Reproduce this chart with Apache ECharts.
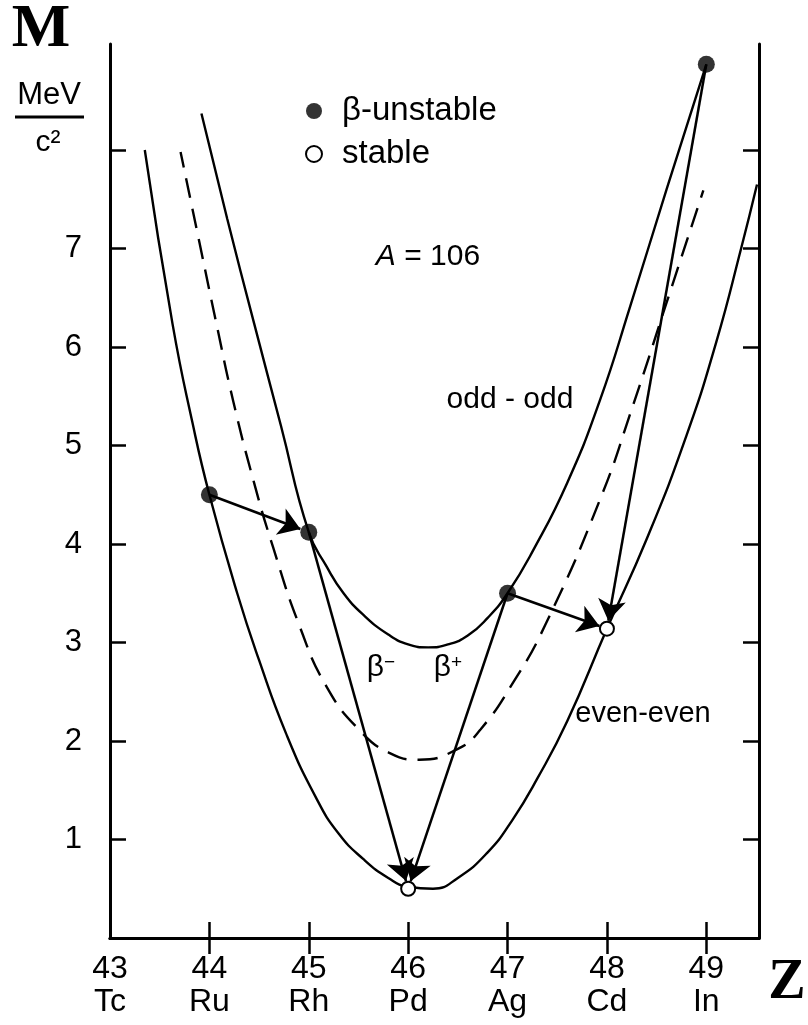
<!DOCTYPE html>
<html>
<head>
<meta charset="utf-8">
<script src="https://cdn.jsdelivr.net/npm/echarts@6/dist/echarts.min.js"></script>
<style>
html, body { margin: 0; padding: 0; background: #fff; }
#main { width: 808px; height: 1025px; }
</style>
</head>
<body>
<div id="main"></div>
<script>
// axis ticks / labels
const zTicks = [43, 44, 45, 46, 47, 48, 49]
const elements = ['Tc', 'Ru', 'Rh', 'Pd', 'Ag', 'Cd', 'In']
const massTicks = [1, 2, 3, 4, 5, 6, 7, 8]
const massLabels = [1, 2, 3, 4, 5, 6, 7]

// even-even mass parabola
const evenEvenZ = [43.35, 43.63, 43.83, 44.0, 44.28, 44.5, 44.77, 45.07, 45.3, 45.55, 45.8, 46.0, 46.25, 46.5, 46.8, 47.05, 47.3, 47.6, 48.0, 48.4, 48.8, 49.1, 49.35, 49.51]
const evenEvenM = [8.0, 6.23, 5.23, 4.5, 3.5, 2.82, 2.08, 1.43, 1.06, 0.8, 0.61, 0.52, 0.5, 0.61, 0.87, 1.2, 1.62, 2.2, 3.14, 4.05, 5.1, 6.05, 7.0, 7.65]

// odd-odd mass parabola
const oddOddZ = [43.92, 44.18, 44.45, 44.72, 45.0, 45.18, 45.35, 45.55, 45.8, 46.0, 46.2, 46.4, 46.6, 46.8, 47.0, 47.26, 47.6, 47.93, 48.23, 48.6, 49.0]
const oddOddM = [8.37, 7.3, 6.24, 5.2, 4.12, 3.77, 3.5, 3.28, 3.08, 2.98, 2.95, 2.98, 3.07, 3.25, 3.5, 3.94, 4.62, 5.46, 6.4, 7.6, 8.87]

// dashed mean curve
const meanZ = [43.71, 43.9, 44.07, 44.24, 44.45, 44.64, 44.91, 45.18, 45.51, 45.81, 46.11, 46.5, 46.73, 47.06, 47.38, 47.93, 48.26, 48.6, 48.97]
const meanM = [7.98, 7.06, 6.24, 5.45, 4.62, 3.97, 3.16, 2.55, 2.11, 1.88, 1.81, 1.92, 2.12, 2.6, 3.18, 4.45, 5.4, 6.45, 7.59]

// nuclei
const unstableZ = [44, 45, 47, 49]
const unstableM = [4.5, 4.12, 3.5, 8.87]
const stableZ = [46, 48]
const stableM = [0.5, 3.14]

// decays [from Z, to Z]
const decays = [[44, 45], [45, 46], [47, 46], [47, 48], [49, 48]]

const massOf = z => {
    const i = unstableZ.indexOf(z)
    if (i >= 0) return unstableM[i]
    return stableM[stableZ.indexOf(z)]
}
const pairs = (zs, ms) => zs.map((z, i) => [z, ms[i]])

const FONT = '"Liberation Sans", Arial, sans-serif'
const SERIF = '"Liberation Serif", "Times New Roman", serif'

const myChart = echarts.init(document.getElementById('main'))

const axisLine = { lineStyle: { color: '#000', width: 3 } }
const tickStyle = { color: '#000', width: 2.5 }

function curve(name, zs, ms, type) {
    return {
        name: name,
        type: 'line',
        data: pairs(zs, ms),
        smooth: 0.5,
        showSymbol: false,
        silent: true,
        z: 2,
        lineStyle: { color: '#000', width: 2.4, type: type || 'solid', dashOffset: 4 }
    }
}

function decayLines(trim) {
    return decays.map(d => {
        const from = [d[0], massOf(d[0])]
        const to = [d[1], massOf(d[1])]
        return { coords: trim ? trim(from, to, stableZ.includes(d[1]) ? 8 : 9) : [from, to] }
    })
}

myChart.setOption({
    animation: false,
    backgroundColor: '#fff',
    grid: { left: 110, right: 49, top: 44, bottom: 87 },
    xAxis: [
        {
            type: 'value', min: 43, max: 49.53, interval: 1,
            axisLine: axisLine,
            axisTick: { inside: true, length: 16, lineStyle: tickStyle, customValues: zTicks.slice(1) },
            splitLine: { show: false },
            axisLabel: {
                margin: 15,
                customValues: zTicks,
                formatter: v => '{n|' + v + '}\n{e|' + elements[zTicks.indexOf(v)] + '}',
                rich: {
                    n: { fontFamily: FONT, fontSize: 32, lineHeight: 33, color: '#000' },
                    e: { fontFamily: FONT, fontSize: 32, lineHeight: 33, color: '#000' }
                }
            }
        },
        {
            type: 'value', position: 'top', min: 43, max: 49.53, interval: 1,
            axisLine: axisLine,
            axisTick: { inside: true, length: 16, lineStyle: tickStyle, customValues: zTicks.slice(1) },
            axisLabel: { show: false },
            splitLine: { show: false }
        }
    ],
    yAxis: [
        {
            type: 'value', min: 0, max: 9.076, interval: 1,
            axisLine: axisLine,
            axisTick: { inside: true, length: 16, lineStyle: tickStyle, customValues: massTicks },
            splitLine: { show: false },
            axisLabel: {
                margin: 28, customValues: massLabels,
                fontFamily: FONT, fontSize: 31, color: '#000'
            }
        },
        {
            type: 'value', position: 'right', min: 0, max: 9.076, interval: 1,
            axisLine: axisLine,
            axisTick: { inside: true, length: 16, lineStyle: tickStyle, customValues: massTicks },
            axisLabel: { show: false },
            splitLine: { show: false }
        }
    ],
    legend: {
        orient: 'vertical',
        left: 305, top: 94,
        padding: 0,
        itemGap: 9,
        itemWidth: 46, itemHeight: 16,
        selectedMode: false,
        textStyle: { fontFamily: FONT, fontSize: 33, color: '#000', lineHeight: 34 },
        data: [
            { name: 'β-unstable', icon: 'circle' },
            { name: 'stable', icon: 'circle', itemStyle: { color: '#fff', borderColor: '#000', borderWidth: 2 } }
        ]
    },
    series: [
        curve('even-even', evenEvenZ, evenEvenM),
        curve('odd-odd', oddOddZ, oddOddM),
        curve('mean', meanZ, meanM, [20, 11]),
        {
            name: 'decays',
            type: 'lines',
            coordinateSystem: 'cartesian2d',
            silent: true,
            z: 3,
            symbol: ['none', 'arrow'],
            symbolSize: [0, 21],
            lineStyle: { color: '#000', width: 2.5, opacity: 1 },
            data: decayLines()
        },
        {
            name: 'β-unstable',
            type: 'scatter',
            data: pairs(unstableZ, unstableM),
            symbol: 'circle',
            symbolSize: 17,
            z: 5,
            itemStyle: { color: '#000' }
        },
        {
            name: 'stable',
            type: 'scatter',
            data: pairs(stableZ, stableM),
            symbol: 'circle',
            symbolSize: 14,
            z: 5,
            itemStyle: { color: '#fff', borderColor: '#000', borderWidth: 2, opacity: 1 }
        }
    ],
    graphic: [
        { type: 'text', x: 41, y: 30, style: { text: 'M', font: 'bold 62px ' + SERIF, fill: '#000', align: 'center', verticalAlign: 'middle' } },
        { type: 'text', x: 49, y: 95, style: { text: 'MeV', font: '31px ' + FONT, fill: '#000', align: 'center', verticalAlign: 'middle' } },
        { type: 'line', shape: { x1: 15, y1: 117, x2: 84, y2: 117 }, style: { stroke: '#000', lineWidth: 3 } },
        { type: 'text', x: 48, y: 143, style: { text: 'c²', font: '30px ' + FONT, fill: '#000', align: 'center', verticalAlign: 'middle' } },
        { type: 'text', x: 787, y: 984, style: { text: 'Z', font: 'bold 56px ' + SERIF, fill: '#000', align: 'center', verticalAlign: 'middle' } },
        {
            type: 'text', x: 428, y: 257,
            style: {
                text: '{i|A} = 106', font: '30px ' + FONT, fill: '#000', align: 'center', verticalAlign: 'middle',
                rich: { i: { font: 'italic 30px ' + FONT, fill: '#000' } }
            }
        },
        { type: 'text', x: 510, y: 400, style: { text: 'odd - odd', font: '30px ' + FONT, fill: '#000', align: 'center', verticalAlign: 'middle' } },
        { type: 'text', x: 643, y: 714, style: { text: 'even-even', font: '29px ' + FONT, fill: '#000', align: 'center', verticalAlign: 'middle' } },
        {
            type: 'text', x: 381, y: 668,
            style: {
                text: 'β{s|−}', font: '30px ' + FONT, fill: '#000', align: 'center', verticalAlign: 'middle',
                rich: { s: { font: '19px ' + FONT, fill: '#000', verticalAlign: 'top' } }
            }
        },
        {
            type: 'text', x: 448, y: 668,
            style: {
                text: 'β{s|+}', font: '30px ' + FONT, fill: '#000', align: 'center', verticalAlign: 'middle',
                rich: { s: { font: '19px ' + FONT, fill: '#000', verticalAlign: 'top' } }
            }
        }
    ]
})

// pull the arrow tips back to the rim of the target circle
function trim(from, to, px) {
    const a = myChart.convertToPixel({ seriesIndex: 4 }, from)
    const b = myChart.convertToPixel({ seriesIndex: 4 }, to)
    const dx = b[0] - a[0], dy = b[1] - a[1]
    const len = Math.hypot(dx, dy)
    const end = [b[0] - dx / len * px, b[1] - dy / len * px]
    return [from, myChart.convertFromPixel({ seriesIndex: 4 }, end)]
}

myChart.setOption({ series: [{}, {}, {}, { data: decayLines(trim) }] })
</script>
</body>
</html>
